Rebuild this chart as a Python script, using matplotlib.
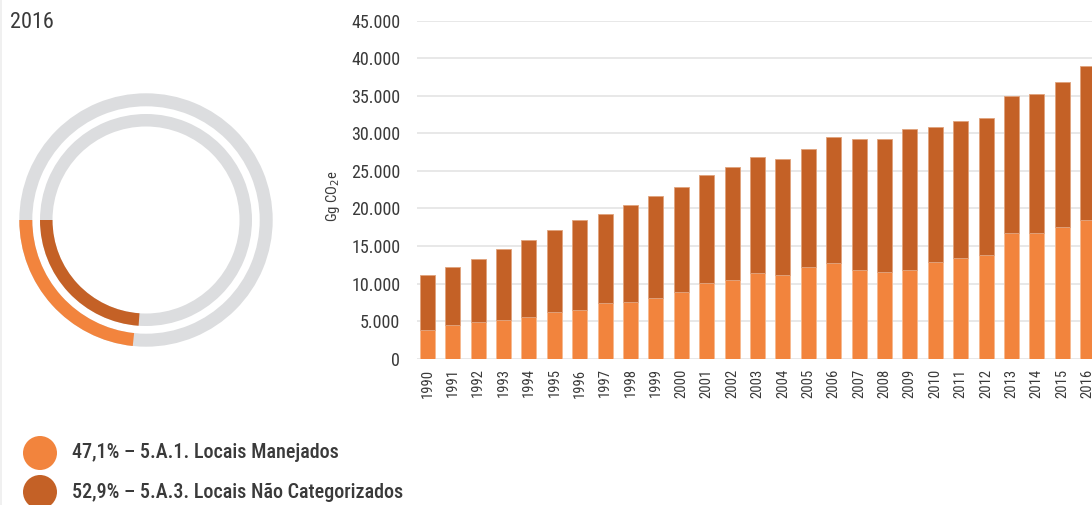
import matplotlib
matplotlib.use("Agg")
import matplotlib.pyplot as plt
from matplotlib import font_manager
from matplotlib.patches import Wedge, Circle
import numpy as np

# ---------------- data ----------------
years = [str(y) for y in range(1990, 2017)]
managed = [3820, 4490, 4890, 5110, 5550, 6220, 6440, 7420, 7550, 8080, 8880,
           10080, 10500, 11400, 11100, 12250, 12700, 11800, 11500, 11800, 12900,
           13400, 13800, 16700, 16700, 17500, 18400]
uncategorized = [7280, 7710, 8410, 9490, 10250, 10880, 11960, 11880, 12850, 13620,
                 13920, 14320, 15000, 15500, 15500, 15650, 16800, 17450, 17750,
                 18800, 17900, 18300, 18300, 18300, 18500, 19300, 20600]
series_names = ["5.A.1. Locais Manejados", "5.A.3. Locais Não Categorizados"]
shares = [47.1, 52.9]
gauge_degrees = [84, 86]      # arc length shown on each ring
y_ticks = list(range(0, 45001, 5000))
panel_title = "2016"
y_label = "Gg CO$_2$e"

C_LIGHT = "#F2843D"
C_DARK = "#C46126"
C_GRAY_RING = "#DCDDDF"
C_TEXT = "#3A3A3A"
C_GRID = "#E4E4E4"

# ---------------- font ----------------
names = {f.name for f in font_manager.fontManager.ttflist}
font_family = None
for cand in ["Roboto Condensed", "Barlow Semi Condensed", "Liberation Sans Narrow",
             "Open Sans Condensed", "Noto Sans Condensed"]:
    if cand in names:
        font_family = cand
        break
stretch = "normal"
if font_family is None:
    cond = [f for f in font_manager.fontManager.ttflist
            if f.name == "DejaVu Sans" and "ondensed" in str(f.fname)]
    if cond:
        font_family = "DejaVu Sans"
        stretch = "condensed"
    else:
        font_family = "Roboto"
plt.rcParams["font.family"] = [font_family, "DejaVu Sans"]
plt.rcParams["font.stretch"] = stretch

W, H = 1092, 505
fig = plt.figure(figsize=(W / 100, H / 100), dpi=100)

# ---------------- left panel (pixel coordinates) ----------------
ax0 = fig.add_axes([0, 0, 1, 1])
ax0.set_xlim(0, W)
ax0.set_ylim(0, H)
ax0.axis("off")

def py(y):
    return H - y

ax0.plot([1, 1], [0, H], color="#EEEEEE", lw=1.2)
ax0.text(10, py(22), panel_title, fontsize=16, color=C_TEXT, va="center",
         ha="left", fontweight="normal")

cx, cy = 146, py(220)
rings = [(126.7, 13.0), (106.0, 12.5)]
colors = [C_LIGHT, C_DARK]
for (r, w), col, deg in zip(rings, colors, gauge_degrees):
    ax0.add_patch(Wedge((cx, cy), r, 0, 360, width=w, facecolor=C_GRAY_RING,
                        edgecolor="none"))
    ax0.add_patch(Wedge((cx, cy), r, 180, 180 + deg, width=w, facecolor=col,
                        edgecolor="none"))

legend_y = [453, 492]
for yy, col, s, name in zip(legend_y, colors, shares, series_names):
    ax0.add_patch(Circle((40, py(yy)), 17, facecolor=col, edgecolor="none"))
    label = f"{s:.1f}".replace(".", ",") + "% – " + name
    ax0.text(72, py(yy), label, fontsize=14.5, color=C_TEXT, va="center",
             ha="left", fontweight="medium")

ax0.text(333, py(196), y_label, rotation=90, fontsize=10.5, color=C_TEXT,
         va="center", ha="center")

# ---------------- bar chart ----------------
left_px, right_px = 417, 1098
top_px, bottom_px = 20.7, 358.7
ax = fig.add_axes([left_px / W, 1 - bottom_px / H,
                   (right_px - left_px) / W, (bottom_px - top_px) / H])
x = np.arange(len(years))
bw = 0.59
ax.bar(x, managed, width=bw, color=C_LIGHT, edgecolor="#F6B98F", linewidth=0.6,
       zorder=3)
ax.bar(x, uncategorized, bottom=managed, width=bw, color=C_DARK,
       edgecolor="#E0A27C", linewidth=0.6, zorder=3)
ax.set_xlim(-0.41, len(years) - 1 + 0.41)
ax.set_ylim(0, 45000)
ax.set_yticks(y_ticks)
ax.set_yticklabels([f"{v:,}".replace(",", ".") for v in y_ticks])
ax.set_xticks(x)
ax.set_xticklabels(years, rotation=90)
ax.tick_params(axis="y", length=0, pad=12, labelsize=13, labelcolor=C_TEXT)
ax.tick_params(axis="x", length=0, pad=7, labelsize=10.5, labelcolor=C_TEXT)
ax.grid(axis="y", color=C_GRID, lw=1.2, zorder=0)
for sp in ax.spines.values():
    sp.set_visible(False)
ax.set_facecolor("none")

fig.savefig("out.png", dpi=100)
